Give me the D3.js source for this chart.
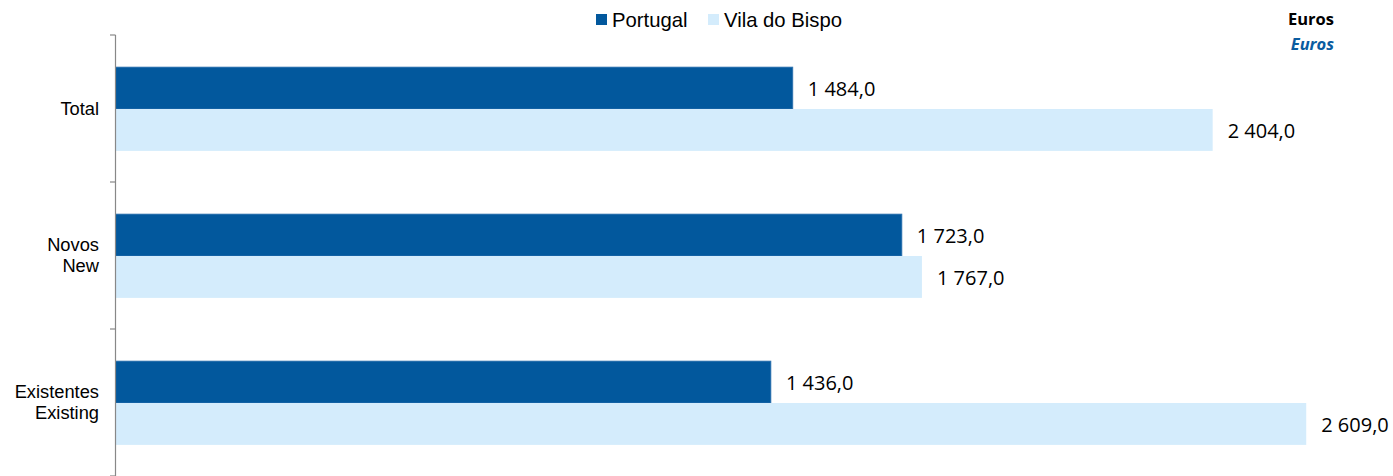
<!DOCTYPE html>
<html><head><meta charset="utf-8">
<script src="https://cdn.jsdelivr.net/npm/d3@7"></script>
<style>body{margin:0;background:#fff}svg{display:block}</style>
</head><body>
<svg id="c" width="1393" height="476"></svg>
<script>
const categories = [["Total"], ["Novos", "New"], ["Existentes", "Existing"]];
const seriesNames = ["Portugal", "Vila do Bispo"];
const portugal = [1484.0, 1723.0, 1436.0];
const vilaDoBispo = [2404.0, 1767.0, 2609.0];
const unitLabels = ["Euros", "Euros"];
const colors = ["#02589D", "#D4ECFC"];

const svg = d3.select("#c");
const x = d3.scaleLinear().domain([0, 2800]).range([115.5, 1393.4]);
const y = d3.scaleBand().domain(d3.range(categories.length)).range([35.5, 476.5]).paddingInner(0.43).paddingOuter(0.215);
const yAxisScale = d3.scaleBand().domain(d3.range(categories.length)).range([35, 476]);
const sub = d3.scaleBand().domain(d3.range(seriesNames.length)).range([0, y.bandwidth()]);
const series = [portugal, vilaDoBispo];
const fmt = v => d3.format(",.1f")(v).replace(/,/g, " ").replace(".", ",");

// bars
series.forEach((vals, si) => {
  svg.append("g").selectAll("rect").data(vals).join("rect")
    .attr("x", x(0))
    .attr("y", (d, i) => y(i) + sub(si))
    .attr("width", d => x(d) - x(0))
    .attr("height", sub.bandwidth())
    .attr("fill", colors[si])
    .attr("stroke", si === 0 ? "#2f72b0" : "none")
    .attr("stroke-width", 0.8);
  svg.append("g").selectAll("text").data(vals).join("text")
    .attr("x", d => x(d) + 15)
    .attr("y", (d, i) => y(i) + sub(si) + sub.bandwidth() / 2)
    .attr("dy", "0.38em")
    .attr("font-family", "'Open Sans', sans-serif")
    .attr("font-size", 20)
    .attr("fill", "#000")
    .text(d => fmt(d));
});

// axis line and ticks
const ax = svg.append("g");
ax.append("line").attr("x1", 115.5).attr("x2", 115.5).attr("y1", 35).attr("y2", 476)
  .attr("stroke", "#888").attr("stroke-width", 1.2);
const tickYs = d3.range(categories.length + 1).map(i => i < categories.length ? yAxisScale(i) : 476);
ax.selectAll("line.t").data(tickYs).join("line").attr("class", "t")
  .attr("x1", 110).attr("x2", 115.5).attr("y1", d => d).attr("y2", d => d)
  .attr("stroke", "#888").attr("stroke-width", 1.2);

// category labels
categories.forEach((lines, i) => {
  const cy = yAxisScale(i) + yAxisScale.bandwidth() / 2;
  const t = svg.append("text").attr("text-anchor", "end")
    .attr("font-family", "'Liberation Sans', Arial, sans-serif").attr("font-size", 18.3).attr("fill", "#000");
  const lh = 21;
  lines.forEach((l, k) => {
    t.append("tspan").attr("x", 99).attr("y", cy + (k - (lines.length - 1) / 2) * lh).attr("dy", "0.35em").text(l);
  });
});

// legend
const leg = svg.append("g").attr("font-family", "'Liberation Sans', Arial, sans-serif").attr("font-size", 20.3);
const legX = [596, 708];
seriesNames.forEach((n, i) => {
  leg.append("rect").attr("x", legX[i]).attr("y", 14).attr("width", 11).attr("height", 11).attr("fill", colors[i]);
  leg.append("text").attr("x", legX[i] + 16).attr("y", 26.5).attr("fill", "#000").text(n);
});

// units
svg.append("text").attr("x", 1334).attr("y", 24.5).attr("text-anchor", "end")
  .attr("font-family", "'Open Sans', sans-serif").attr("font-weight", "bold").attr("font-size", 16.5).attr("fill", "#000").text(unitLabels[0]);
svg.append("text").attr("x", 1334).attr("y", 50).attr("text-anchor", "end")
  .attr("font-family", "'Open Sans', sans-serif").attr("font-weight", "bold").attr("font-style", "italic").attr("font-size", 16.5).attr("fill", "#0a5ca0").text(unitLabels[1]);
</script>
</body></html>
